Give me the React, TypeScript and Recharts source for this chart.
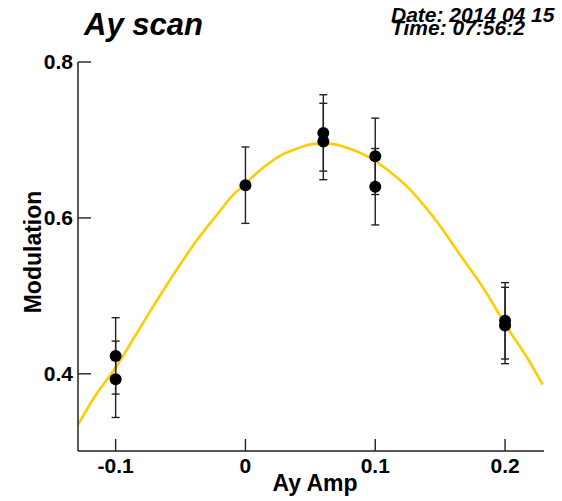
import React from 'react';
import { ComposedChart, Line, Scatter, XAxis, YAxis, ErrorBar } from 'recharts';

// Fit curve
const curveX = [-0.129, -0.116, -0.1, -0.087, -0.075, -0.061, -0.052, -0.038, -0.021, -0.012, 0, 0.014, 0.027, 0.04, 0.053, 0.066, 0.078, 0.096, 0.109, 0.127, 0.14, 0.148, 0.166, 0.184, 0.201, 0.218, 0.229];
const curveY = [0.335, 0.371, 0.408, 0.443, 0.476, 0.513, 0.536, 0.57, 0.606, 0.625, 0.644, 0.665, 0.68, 0.689, 0.695, 0.695, 0.69, 0.677, 0.662, 0.636, 0.611, 0.594, 0.551, 0.508, 0.461, 0.418, 0.386];

// Measured points
const pointX = [-0.1, -0.1, 0, 0.06, 0.06, 0.1, 0.1, 0.2, 0.2];
const pointY = [0.423, 0.393, 0.642, 0.709, 0.698, 0.679, 0.64, 0.468, 0.462];
const pointErr = [0.049, 0.049, 0.049, 0.049, 0.049, 0.049, 0.049, 0.049, 0.049];

const xTicks = [-0.1, 0, 0.1, 0.2];
const yTicks = [0.4, 0.6, 0.8];
const xDomain: [number, number] = [-0.129, 0.23];
const yDomain: [number, number] = [0.301, 0.8];

const titleText = 'Ay scan';
const dateText = 'Date: 2014 04 15';
const timeText = 'Time: 07:56:2';
const xTitle = 'Ay Amp';
const yTitle = 'Modulation';

const curveData = curveX.map((x, i) => ({ x, y: curveY[i] }));
const pointData = pointX.map((x, i) => ({ x, y: pointY[i], err: pointErr[i] }));

const FONT = '"Liberation Sans", Arial, Helvetica, sans-serif';
const AX = '#222';

const Dot = (p: any) => <circle cx={p.cx} cy={p.cy} r={6} fill="#000" />;

const XTick = (p: any) => {
  const { x, y, payload } = p;
  return (
    <g>
      <line x1={x} x2={x} y1={y} y2={y - 12} stroke={AX} strokeWidth={1.4} />
      <text x={x} y={y + 7} dy="0.71em" textAnchor="middle" fontSize={21} fontWeight="bold" fontFamily={FONT} fill="#000">
        {String(payload.value)}
      </text>
    </g>
  );
};

const YTick = (p: any) => {
  const { x, y, payload } = p;
  return (
    <g>
      <line x1={x} x2={x + 13} y1={y} y2={y} stroke={AX} strokeWidth={1.4} />
      <text x={x - 5} y={y} dy="0.355em" textAnchor="end" fontSize={21} fontWeight="bold" fontFamily={FONT} fill="#000">
        {String(payload.value)}
      </text>
    </g>
  );
};

const headStyle: React.CSSProperties = {
  position: 'absolute',
  fontFamily: FONT,
  fontWeight: 'bold',
  fontStyle: 'italic',
  whiteSpace: 'nowrap',
  color: '#000',
};

export default function App() {
  return (
    <div style={{ position: 'absolute', left: 0, top: 0, width: 562, height: 501, background: '#fff', overflow: 'hidden' }}>
      <ComposedChart width={562} height={501} margin={{ top: 62, right: 18, bottom: 20, left: 0 }}>
        <XAxis
          xAxisId="b"
          type="number"
          dataKey="x"
          domain={xDomain}
          allowDataOverflow
          ticks={xTicks}
          interval={0}
          height={30}
          tickSize={0}
          tickMargin={0}
          axisLine={{ stroke: AX, strokeWidth: 1.5 }}
          tickLine={false}
          tick={XTick}
        />
        <XAxis
          xAxisId="t"
          orientation="top"
          type="number"
          dataKey="x"
          domain={xDomain}
          allowDataOverflow
          height={0}
          tick={false}
          tickLine={false}
          axisLine={{ stroke: AX, strokeWidth: 1.5 }}
        />
        <YAxis
          yAxisId="l"
          type="number"
          domain={yDomain}
          allowDataOverflow
          ticks={yTicks}
          interval={0}
          width={78}
          tickSize={0}
          tickMargin={0}
          axisLine={{ stroke: AX, strokeWidth: 1.5 }}
          tickLine={false}
          tick={YTick}
        />
        <YAxis
          yAxisId="r"
          orientation="right"
          type="number"
          domain={yDomain}
          allowDataOverflow
          width={0}
          tick={false}
          tickLine={false}
          axisLine={{ stroke: AX, strokeWidth: 1.5 }}
        />
        <Line
          xAxisId="b"
          yAxisId="l"
          data={curveData}
          dataKey="y"
          type="monotone"
          stroke="#FFCC00"
          strokeWidth={2.6}
          dot={false}
          activeDot={false}
          isAnimationActive={false}
        />
        <Scatter xAxisId="b" yAxisId="l" data={pointData} dataKey="y" shape={Dot} isAnimationActive={false}>
          <ErrorBar dataKey="err" direction="y" width={4} stroke={AX} strokeWidth={1.4} isAnimationActive={false} />
        </Scatter>
      </ComposedChart>

      <div style={{ ...headStyle, left: 84, top: 9, fontSize: 31, lineHeight: 1 }}>{titleText}</div>
      <div style={{ ...headStyle, left: 391, top: 9.3, fontSize: 21, lineHeight: '12.3px' }}>
        {dateText}
        <br />
        {timeText}
      </div>
      <div
        style={{
          position: 'absolute',
          left: 315,
          top: 472,
          transform: 'translateX(-50%)',
          fontFamily: FONT,
          fontWeight: 'bold',
          fontSize: 23,
          lineHeight: 1,
          whiteSpace: 'nowrap',
          color: '#000',
        }}
      >
        {xTitle}
      </div>
      <div
        style={{
          position: 'absolute',
          left: 33,
          top: 252,
          transform: 'translate(-50%, -50%) rotate(-90deg)',
          fontFamily: FONT,
          fontWeight: 'bold',
          fontSize: 23,
          lineHeight: 1,
          whiteSpace: 'nowrap',
          color: '#000',
        }}
      >
        {yTitle}
      </div>
    </div>
  );
}
